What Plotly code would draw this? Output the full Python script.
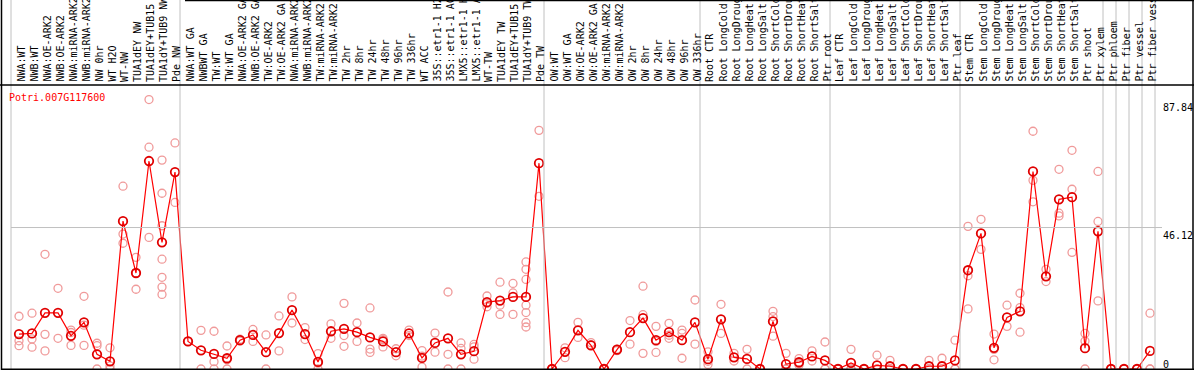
import plotly.graph_objects as go

gene = "Potri.007G117600"

labels = [
    "NWA:WT", "NWB:WT", "NWA:OE-ARK2", "NWB:OE-ARK2", "NWA:miRNA-ARK2", "NWB:miRNA-ARK2",
    "NW 0hr", "WT H2O", "WT-NW", "TUA1dEY NW", "TUA1dEY+TUB15 NW", "TUA1dY+TUB9 NW", "Pde NW",
    "NWA:WT GA", "NWBWT GA", "TW:WT", "TW:WT GA", "NWA:OE-ARK2 GA", "NWB:OE-ARK2 GA",
    "TW:OE-ARK2", "TW:OE-ARK2 GA", "NWA:miRNA-ARK2", "NWB:miRNA-ARK2", "TW:miRNA-ARK2",
    "TW:miRNA-ARK2", "TW 2hr", "TW 8hr", "TW 24hr", "TW 48hr", "TW 96hr", "TW 336hr", "WT ACC",
    "35S::etr1-1 H2O", "35S::etr1-1 ACC", "LMX5::etr1-1 H2O", "LMX5::etr1-1 ACC", "WT-TW",
    "TUA1dEY TW", "TUA1dEY+TUB15 TW", "TUA1dY+TUB9 TW", "Pde TW",
    "OW:WT", "OW:WT GA", "OW:OE-ARK2", "OW:OE-ARK2 GA", "OW:miRNA-ARK2", "OW:miRNA-ARK2",
    "OW 2hr", "OW 8hr", "OW 24hr", "OW 48hr", "OW 96hr", "OW 336hr",
    "Root CTR", "Root LongCold", "Root LongDrought", "Root LongHeat", "Root LongSalt",
    "Root ShortCold", "Root ShortDrought", "Root ShortHeat", "Root ShortSalt", "Ptr root",
    "Leaf CTR", "Leaf LongCold", "Leaf LongDrought", "Leaf LongHeat", "Leaf LongSalt",
    "Leaf ShortCold", "Leaf ShortDrought", "Leaf ShortHeat", "Leaf ShortSalt", "Ptr leaf",
    "Stem CTR", "Stem LongCold", "Stem LongDrought", "Stem LongHeat", "Stem LongSalt",
    "Stem ShortCold", "Stem ShortDrought", "Stem ShortHeat", "Stem ShortSalt", "Ptr shoot",
    "Ptr xylem", "Ptr phloem", "Ptr fiber", "Ptr vessel", "Ptr fiber vessel",
]

group_sizes = [13, 28, 12, 10, 10, 11, 1, 1, 1, 1]

means = [
    11.4, 11.6, 18.3, 18.3, 10.8, 15.2, 4.8, 2.5, 48.2, 31.3, 67.8, 41.3, 64.2,
    9.0, 6.1, 4.9, 3.5, 9.4, 11.1, 5.5, 11.7, 19.2, 11.4, 2.3, 12.3, 13.1, 12.0, 10.3,
    9.0, 5.5, 11.6, 3.6, 8.5, 10.0, 4.8, 5.8, 21.8, 22.3, 23.5, 23.5, 67.1,
    0.0, 5.6, 12.6, 7.7, 0.0, 6.3, 12.0, 16.6, 9.4, 12.0, 9.4, 15.2,
    3.2, 16.2, 3.8, 3.3, 0.0, 15.5, 1.6, 2.2, 4.1, 2.8,
    0.0, 2.0, 0.0, 1.2, 0.9, 0.0, 0.0, 0.9, 0.9, 2.8,
    32.2, 44.2, 6.9, 16.8, 18.8, 64.4, 30.2, 55.3, 56.0, 6.8, 44.9,
    0.0, 0.0, 0.0, 5.9,
]

replicates = [
    [17.2, 9.2, 7.6], [18.2, 9.8, 7.1], [37.4, 11.3, 5.9], [26.3, 10.0], [12.7, 7.7, 11.9],
    [23.7, 14.3, 7.7], [8.4, 7.6, 0.0], [6.9, 1.0, 0.0], [59.6, 44.0, 41.0], [36.4, 26.0, 31.3],
    [87.84, 72.3, 42.9], [68.1, 57.3, 46.7, 35.8, 29.9, 26.7, 24.3], [73.7, 54.3],
    [9.1, 8.9], [12.6, 0.0], [12.3, 2.4, 0.0], [7.5, 0.0, 3.0], [9.7, 9.1], [12.9, 9.0],
    [11.1, 0.0], [17.3, 5.9], [23.5, 15.0], [13.5, 9.6], [5.0, 0.0, 1.9], [14.7, 10.0],
    [21.4, 10.9, 7.4], [15.0, 9.0], [19.9, 6.5, 5.4], [10.0, 7.2, 9.6], [6.6, 4.3],
    [12.7, 10.9], [6.0, 0.6, 4.2], [11.7, 5.5], [25.1, 4.8, 0.0], [8.5, 6.7, 0.0],
    [8.0, 7.2, 3.2], [23.8, 20.3, 21.4], [28.3, 17.8, 20.8], [27.9, 24.8, 17.8],
    [34.9, 32.5, 29.2, 20.8, 18.4, 15.1, 13.7], [77.8, 56.3],
    [0.0, 0.0], [6.9, 3.7], [15.2, 10.3], [8.6, 7.9], [0.0, 0.0], [6.5, 6.0], [15.8, 8.1],
    [27.0, 5.1, 17.7], [13.9, 5.4, 9.0], [14.9, 11.0, 10.0], [12.7, 11.6, 3.5], [22.5, 8.1],
    [5.6, 2.5, 1.5], [21.1, 11.6], [5.1, 2.6], [6.4, 0.0], [0.0, 0.0], [18.8, 17.1, 10.7],
    [5.1, 0.0, 0.0], [3.4, 1.3, 1.8], [5.9, 2.6], [8.8, 0.0, 0.0],
    [0.0, 0.0], [6.4, 0.0, 0.0], [0.0, 0.0], [4.5, 0.0, 0.0], [2.8, 0.0, 0.0], [0.0, 0.0],
    [0.0, 0.0], [2.8, 0.0, 0.0], [3.5, 0.0, 0.0], [9.4, 0.0, 0.0],
    [46.5, 30.4, 19.6], [48.8, 39.0], [11.4, 6.4, 3.0], [20.8, 13.9], [24.7, 20.0, 12.0],
    [77.5, 61.5, 54.5], [32.5, 28.5], [65.1, 50.8, 49.9], [71.3, 58.6, 38.0], [11.6, 9.1, 0.0],
    [64.4, 48.1, 22.2],
    [0.0, 0.0], [0.0, 0.0], [0.0, 0.0], [18.2, 0.0, 0.0],
]

y_tick_values = [87.84, 46.12, 0]
y_tick_labels = ["87.84", "46.12", "0"]

# ---------------- layout geometry (pixels) ----------------
W, H = 1194, 370
X0, DX = 19, 13          # pixel x of first sample, spacing
ZERO_PX = 369            # pixel y of value 0
VPP = 0.326              # value per pixel
FONT = "DejaVu Sans Mono"


def py(p):  # pixel y (from top) -> paper
    return 1 - p / H


def px(p):  # pixel x -> paper
    return p / W


xs = list(range(len(labels)))
xr = [-X0 / DX, (W - X0) / DX]
yr = [-(H - ZERO_PX) * VPP, ZERO_PX * VPP]

fig = go.Figure()

rx, ry = [], []
for i, reps in enumerate(replicates):
    for v in reps:
        rx.append(xs[i])
        ry.append(v)

fig.add_trace(go.Scatter(
    x=rx, y=ry, mode="markers",
    marker=dict(symbol="circle-open", size=8, color="#f09a9a", line=dict(width=1.3)),
    hoverinfo="skip",
))
fig.add_trace(go.Scatter(
    x=xs, y=means, mode="lines+markers",
    line=dict(color="#ff0000", width=1.2),
    marker=dict(symbol="circle-open", size=8.5, color="#e00000", line=dict(width=1.8)),
))

shapes = []
b = 0
bounds = [0]
for s in group_sizes:
    b += s
    bounds.append(b)
for bb in bounds:
    xv = bb - 8 / DX
    shapes.append(dict(type="line", xref="x", yref="paper", x0=xv, x1=xv,
                       y0=py(ZERO_PX), y1=1, line=dict(color="#c0c0c0", width=1)))
shapes.append(dict(type="line", xref="x", yref="y", x0=-8 / DX, x1=(1162 - X0) / DX,
                   y0=y_tick_values[1], y1=y_tick_values[1],
                   line=dict(color="#c0c0c0", width=1)))
blk = dict(color="#000000", width=1.5)
shapes.append(dict(type="line", xref="paper", yref="paper", x0=0, x1=1, y0=py(85), y1=py(85), line=blk))
shapes.append(dict(type="line", xref="paper", yref="paper", x0=px(1.5), x1=1, y0=py(369.3), y1=py(369.3), line=blk))
shapes.append(dict(type="line", xref="paper", yref="paper", x0=px(1.5), x1=px(1.5), y0=py(370), y1=1, line=blk))
shapes.append(dict(type="line", xref="paper", yref="paper", x0=px(1193), x1=px(1193), y0=py(370), y1=1, line=blk))
shapes.append(dict(type="line", xref="paper", yref="paper", x0=px(185), x1=1, y0=py(0.5), y1=py(0.5), line=blk))

annotations = []
for i, lab in enumerate(labels):
    annotations.append(dict(x=xs[i], xref="x", y=py(84), yref="paper", text=lab,
                            textangle=-90, xanchor="center", yanchor="bottom", showarrow=False,
                            xshift=1.5,
                            font=dict(family=FONT, size=10, color="#000000")))
annotations.append(dict(x=px(7), xref="paper", y=py(97), yref="paper", text=gene,
                        xanchor="left", yanchor="middle", showarrow=False,
                        font=dict(family=FONT, size=10, color="#ff0000")))
for v, t in zip(y_tick_values, y_tick_labels):
    top = ZERO_PX - v / VPP
    if v == 0:
        top = 357
    annotations.append(dict(x=px(1161), xref="paper", y=py(top), yref="paper", text=t,
                            xanchor="left", yanchor="top", showarrow=False,
                            font=dict(family=FONT, size=10, color="#000000")))

fig.update_layout(
    width=W, height=H, margin=dict(l=0, r=0, t=0, b=0, pad=0),
    paper_bgcolor="#ffffff", plot_bgcolor="#ffffff", showlegend=False,
    xaxis=dict(range=xr, visible=False, showgrid=False, zeroline=False, fixedrange=True),
    yaxis=dict(range=yr, visible=False, showgrid=False, zeroline=False, fixedrange=True),
    shapes=shapes, annotations=annotations,
)

fig.write_html(
    "out.html",
    config={"displayModeBar": False},
    post_script="document.body.style.margin='0';document.body.style.overflow='hidden';",
)
